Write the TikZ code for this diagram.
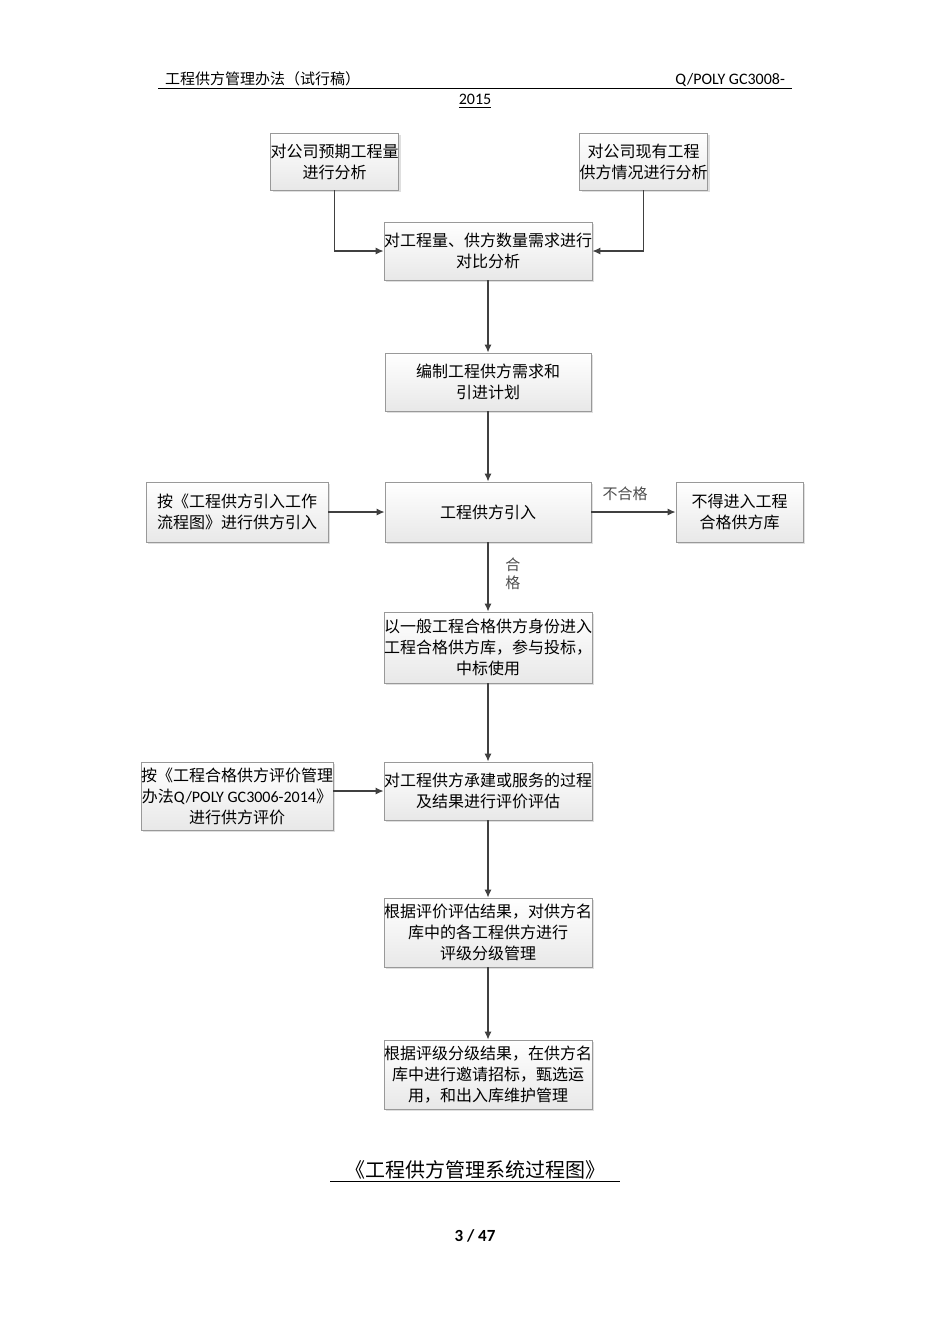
\documentclass[tikz,border=0pt]{standalone}
\usepackage{fontspec}
\usetikzlibrary{shadows,arrows.meta}
\setmainfont{Noto Sans CJK SC}
\newfontfamily\lat{Carlito}
\begin{document}
\begin{tikzpicture}[x=0.5pt,y=-0.5pt,
 bx/.style={draw=gray!80,top color=white,bottom color=gray!18,align=center,inner sep=0pt,
   font=\fontsize{8}{10.5}\selectfont,drop shadow={opacity=0.25,shadow xshift=1pt,shadow yshift=-1pt}},
 ar/.style={-{Latex[length=4pt,width=3.5pt]},draw=black!75,line width=0.6pt}]
\useasboundingbox (0,0) rectangle (950,1344);
\newcommand\bxat[6]{\node[bx,minimum width=#3*0.5pt-#1*0.5pt,minimum height=#4*0.5pt-#2*0.5pt] (#5) at ({(#1+#3)/2},{(#2+#4)/2}) {#6};}
\bxat{273}{133}{396}{190}{a}{对公司预期工程量\\进行分析}
\bxat{582}{133}{705}{190}{b}{对公司现有工程\\供方情况进行分析}
\bxat{385}{222}{591}{280}{c}{对工程量、供方数量需求进行\\对比分析}
\bxat{385}{353}{591}{411}{d}{编制工程供方需求和\\引进计划}
\bxat{385}{482}{591}{542}{e}{工程供方引入}
\bxat{146}{482}{328}{542}{l1}{按《工程供方引入工作\\流程图》进行供方引入}
\bxat{676}{482}{803}{542}{r1}{不得进入工程\\合格供方库}
\bxat{385}{612}{591}{683}{f}{以一般工程合格供方身份进入\\工程合格供方库，参与投标，\\中标使用}
\bxat{385}{762}{591}{820}{g}{对工程供方承建或服务的过程\\及结果进行评价评估}
\bxat{146}{762}{328}{830}{l2}{按《工程合格供方评价管理\\办法{\lat Q/POLY GC3006-2014}》\\进行供方评价}
\bxat{385}{898}{591}{967}{h}{根据评价评估结果，对供方名\\库中的各工程供方进行\\评级分级管理}
\bxat{385}{1040}{591}{1109}{i}{根据评级分级结果，在供方名\\库中进行邀请招标，甄选运\\用，和出入库维护管理}
\draw[ar] (a.south) |- (c.west);
\draw[ar] (b.south) |- (c.east);
\draw[ar] (c) -- (d);
\draw[ar] (d) -- (e);
\draw[ar] (l1) -- (e);
\draw[ar] (e) -- node[pos=0.4,above=2pt,font=\fontsize{7.5}{9}\selectfont,text=black!70]{不合格} (r1);
\draw[ar] (e) -- node[pos=0.45,right=5pt,align=center,font=\fontsize{7.5}{9}\selectfont,text=black!70]{合\\格} (f);
\draw[ar] (f) -- (g);
\draw[ar] (l2.east|-g.west) -- (g.west);
\draw[ar] (g) -- (h);
\draw[ar] (h) -- (i);
\node[anchor=base west,font=\fontsize{7.5}{9}\selectfont] (hd) at (158,84) {工程供方管理办法（试行稿）};
\node[anchor=base east,font=\lat\fontsize{8}{9}\selectfont] (hr) at (792,84) {Q/POLY GC3008-};
\draw[line width=0.4pt] (158,88) -- (792,88);
\node[anchor=base,font=\lat\fontsize{8}{9}\selectfont] (yr) at (475,104) {\underline{2015}};
\node[anchor=base,font=\fontsize{10}{12}\selectfont] (cap) at (475,1177) {《工程供方管理系统过程图》};
\draw[line width=0.4pt] (330,1181) -- (620,1181);
\node[anchor=base,font=\lat\bfseries\fontsize{8.5}{10}\selectfont] (pg) at (475,1241) {3 / 47};
\end{tikzpicture}
\end{document}
